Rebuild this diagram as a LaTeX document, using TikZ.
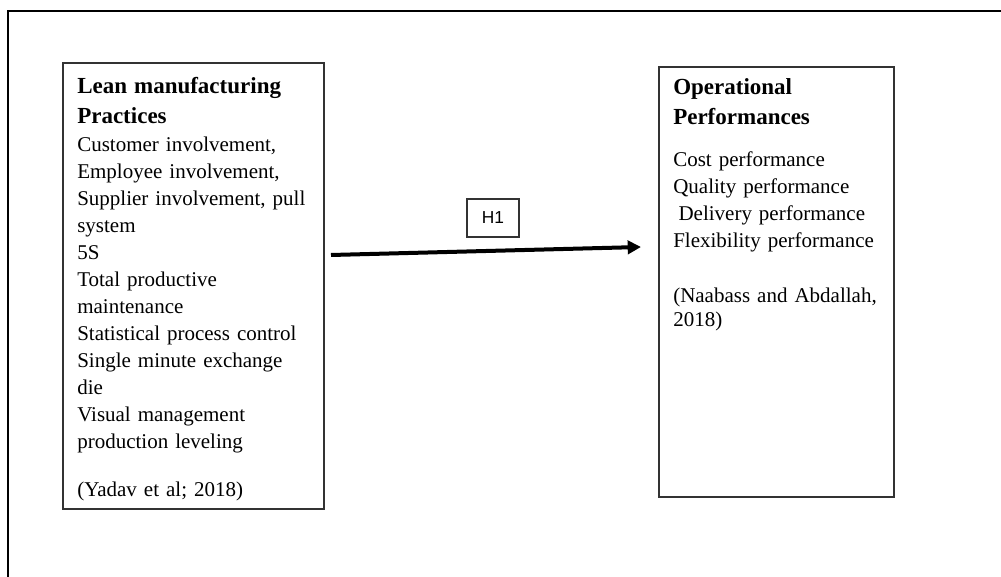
\documentclass[tikz,border=0pt]{standalone}
\usepackage{fontspec}
\setmainfont{Liberation Serif}
\newfontfamily\hfont{Liberation Sans}
\usepackage{tikz}
\usetikzlibrary{arrows.meta,positioning}

\begin{document}
\begin{tikzpicture}[x=0.75pt,y=-0.75pt,
	boxnode/.style={rectangle,draw=black!80,line width=0.8pt,inner sep=0pt},
	textnode/.style={anchor=north west,inner sep=0pt,align=left,font=\fontsize{15.75}{20.25}\selectfont},
	flowarrow/.style={-{Triangle[length=10pt,width=10pt]},line width=3pt}]
	
	\useasboundingbox (0,0) rectangle (1001,577);
	
	% outer frame
	\draw[line width=1.6pt] (8,577) -- (8,11) -- (1001,11);
	
	\node [boxnode,minimum width=195.75pt,minimum height=334.5pt] (lean) at (193.5,286) {};
	\node [boxnode,minimum width=176.25pt,minimum height=322.5pt] (ops) at (776.5,282) {};
	\node [boxnode,minimum width=39pt,minimum height=28.5pt,font=\hfont\fontsize{13}{15}\selectfont] (h1) at (493,218) {H1};
	
	\node [textnode,text width=185pt] (leantext) at (77,77) {%
		{\fontsize{17.25}{20.25}\selectfont\bfseries Lean manufacturing}\\[2.25pt]
		{\fontsize{17.25}{20.25}\selectfont\bfseries Practices}\\[0.75pt]
		Customer involvement,\\
		Employee involvement,\\
		Supplier involvement, pull\\
		system\\
		5S\\
		Total productive\\
		maintenance\\
		Statistical process control\\
		Single minute exchange\\
		die\\
		Visual management\\
		production leveling\\[15.75pt]
		(Yadav et al; 2018)};
	
	\node [textnode,text width=170pt] (opstext) at (673,78.5) {%
		{\fontsize{17.25}{20.25}\selectfont\bfseries Operational}\\[2.25pt]
		{\fontsize{17.25}{20.25}\selectfont\bfseries Performances}\\[11.25pt]
		Cost performance\\
		Quality performance\\
		\hspace*{0.25em}Delivery performance\\
		Flexibility performance\\[21pt]
		(Naabass and Abdallah,\\[-2.25pt]
		2018)};
	
	\coordinate (hstart) at (331,255);
	\coordinate (hend) at (641,247);
	\draw [flowarrow] (hstart) to (hend);
\end{tikzpicture}
\end{document}
